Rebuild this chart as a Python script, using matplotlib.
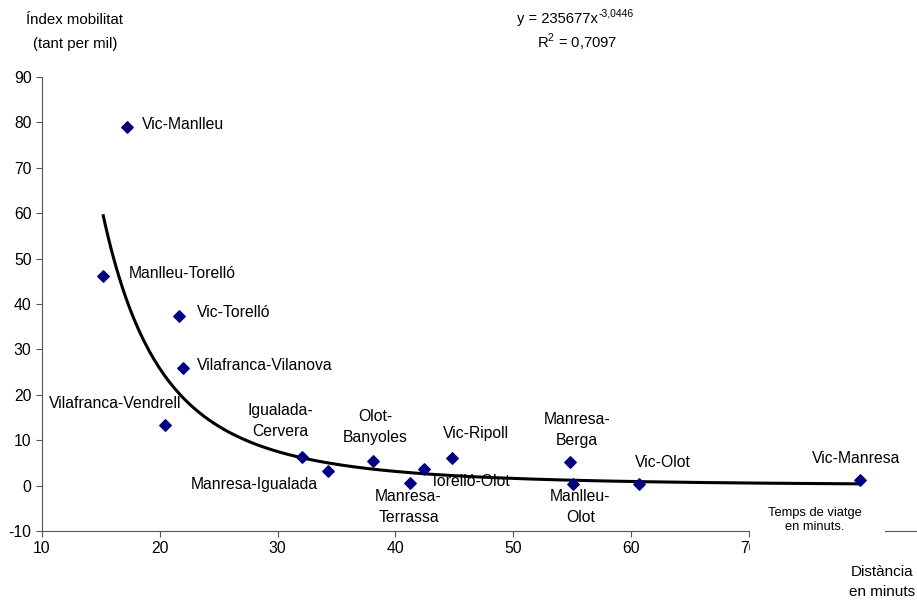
import numpy as np
import matplotlib
matplotlib.use('Agg')
import matplotlib.pyplot as plt
from matplotlib.patches import Rectangle

plt.rcParams['font.family'] = ['Liberation Sans', 'DejaVu Sans']
plt.rcParams['axes.unicode_minus'] = False

# dades: temps de viatge (minuts) i index de mobilitat (tant per mil)
noms = ['Vic-Manlleu', 'Manlleu-Torelló', 'Vic-Torelló', 'Vilafranca-Vilanova',
        'Vilafranca-Vendrell', 'Igualada-\nCervera', 'Manresa-Igualada',
        'Olot-\nBanyoles', 'Manresa-\nTerrassa', 'Torelló-Olot', 'Vic-Ripoll',
        'Manresa-\nBerga', 'Manlleu-\nOlot', 'Vic-Olot', 'Vic-Manresa']
temps = [17.2, 15.2, 21.6, 22.0, 20.4, 32.1, 34.3, 38.1, 41.2, 42.4, 44.8,
         54.8, 55.1, 60.7, 79.4]
index = [79.0, 46.1, 37.4, 25.9, 13.3, 6.3, 3.2, 5.4, 0.6, 3.6, 6.1,
         5.2, 0.4, 0.4, 1.2]

# linia de tendencia potencial
coef_a = 235677
coef_b = -3.0446

# posicio de les etiquetes (offset en pixels respecte del punt)
offsets = [(15, 2, 'left'), (25, 3, 'left'), (18, 3, 'left'), (14, 3, 'left'),
           (-49, 22, 'center'), (-22, 36, 'center'), (-74, -13, 'center'),
           (2, 34, 'center'), (-1, -24, 'center'), (46, -12, 'center'),
           (24, 24, 'center'), (7, 32, 'center'), (7, -23, 'center'),
           (24, 21, 'center'), (-3, 22, 'center')]

fig = plt.figure(figsize=(9.17, 6), dpi=100)
ax = fig.add_axes([42 / 917, 69 / 600, 1 - 42 / 917, 454 / 600])

xs = np.linspace(min(temps), max(temps), 300)
ax.plot(xs, coef_a * xs ** coef_b, color='black', lw=2.2, zorder=2)
ax.scatter(temps, index, marker='D', s=34, color='#000080', zorder=3)

for nom, x, y, (dx, dy, ha) in zip(noms, temps, index, offsets):
    ax.annotate(nom, (x, y), xytext=(dx, dy), textcoords='offset pixels',
                ha=ha, va='center', fontsize=11.3, linespacing=1.5)

ax.set_xlim(10, 10 + 875 / 117.8 * 10)
ax.set_ylim(-10, 90)
ax.set_xticks(np.arange(10, 90, 10))
ax.set_yticks(np.arange(-10, 100, 10))
ax.tick_params(labelsize=11.3, length=4, width=0.8, color='#555555')
for s in ['top', 'right']:
    ax.spines[s].set_visible(False)
for s in ['left', 'bottom']:
    ax.spines[s].set_color('#555555')
    ax.spines[s].set_linewidth(0.8)

fig.text(75 / 917, 1 - 20 / 600, 'Índex mobilitat', ha='center', va='center', fontsize=10.8)
fig.text(75 / 917, 1 - 44 / 600, '(tant per mil)', ha='center', va='center', fontsize=10.8)
fig.text(598 / 917, 1 - 19 / 600, 'y = 235677x', ha='right', va='center', fontsize=10.6)
fig.text(599 / 917, 1 - 13 / 600, '-3,0446', ha='left', va='center', fontsize=7.5)
fig.text(577 / 917, 1 - 42 / 600, r'R$^{\mathregular{2}}$ = 0,7097',
         ha='center', va='center', fontsize=10.6)

# caixa blanca que tapa l'eix
fig.patches.append(Rectangle((750 / 917, 42 / 600), 135 / 917, 68 / 600,
                             transform=fig.transFigure, facecolor='white',
                             edgecolor='none', zorder=5))
fig.text(815 / 917, 1 - 513 / 600, 'Temps de viatge', ha='center', va='center',
         fontsize=9.3, zorder=6)
fig.text(815 / 917, 1 - 527 / 600, 'en minuts.', ha='center', va='center',
         fontsize=9.3, zorder=6)

fig.text(882 / 917, 1 - 572 / 600, 'Distància', ha='center', va='center', fontsize=11)
fig.text(882 / 917, 1 - 592 / 600, 'en minuts', ha='center', va='center', fontsize=11)

fig.savefig('out.png', dpi=100)
